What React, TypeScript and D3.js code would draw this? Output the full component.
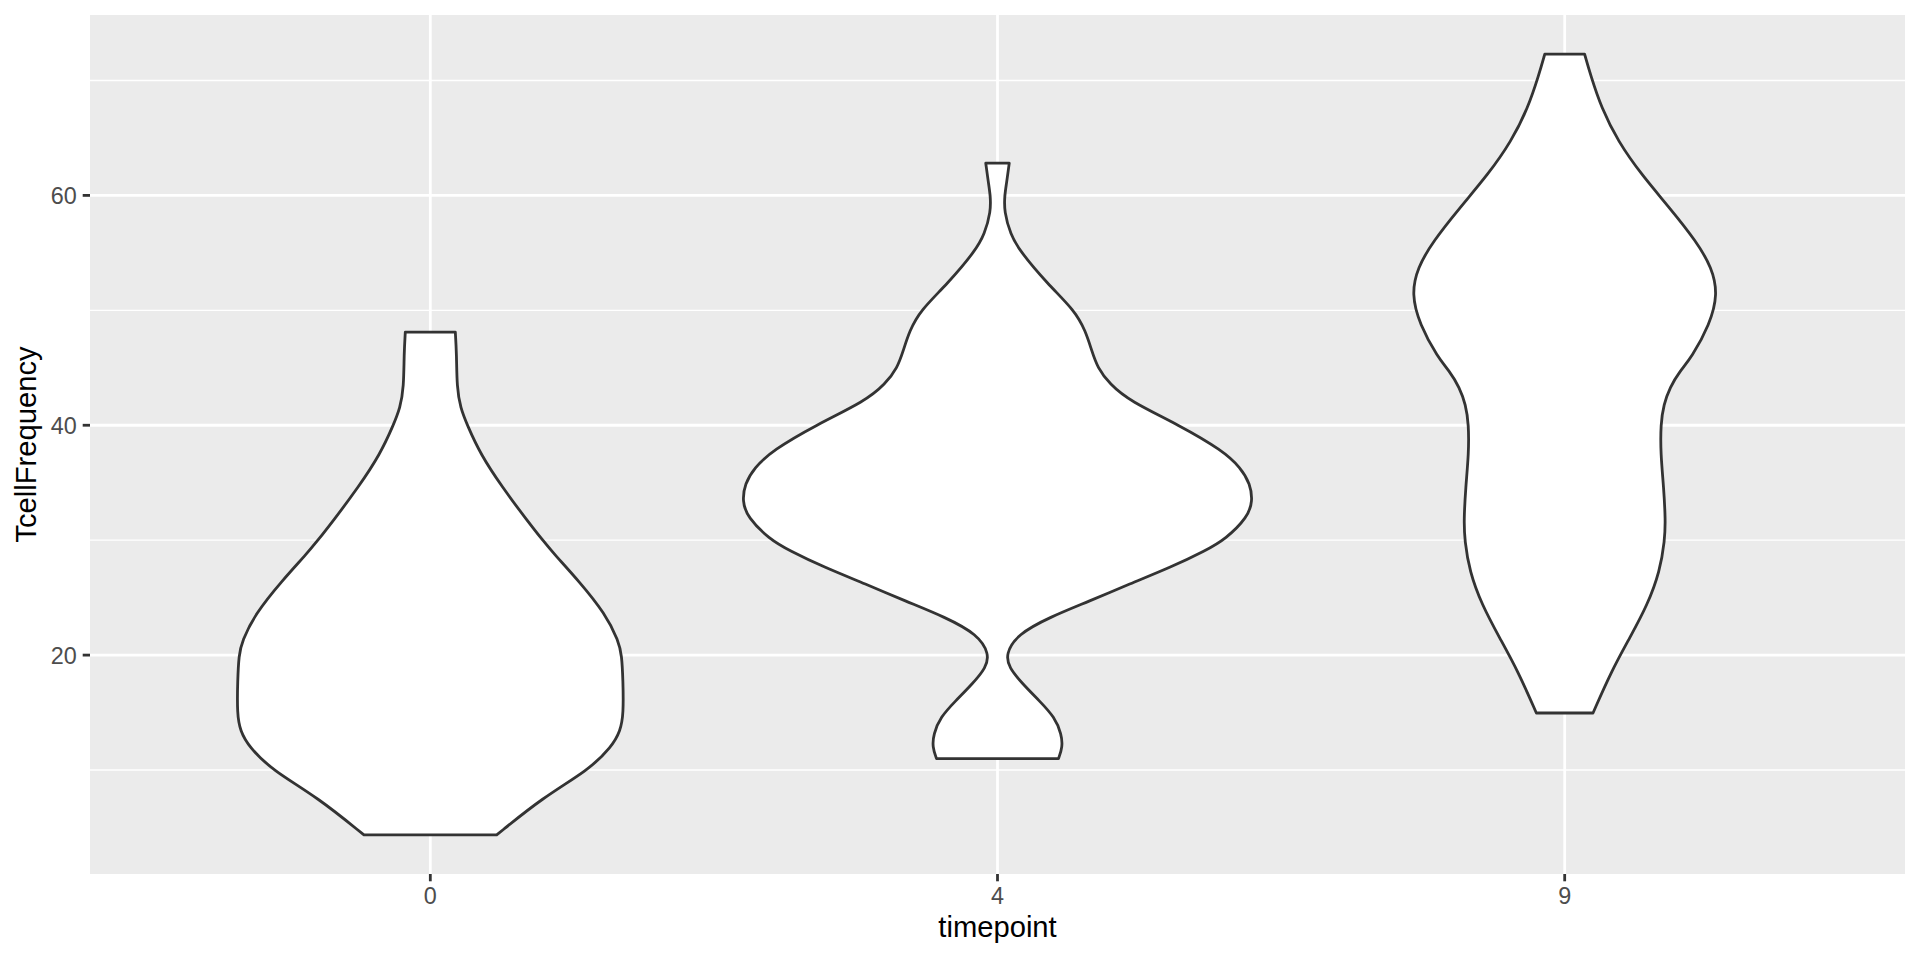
import React from "react";
import * as d3 from "d3";

// timepoint categories
const categories = ["0", "4", "9"];

// Violin profiles: [TcellFrequency, relative half-width (1 = widest violin)]
const violinT0: [number, number][] = [
  [4.35, 0.26], [7.6, 0.44], [10, 0.62], [12, 0.71], [13.4, 0.745], [14.9, 0.757],
  [17.8, 0.755], [20, 0.75], [21.2, 0.738], [23.6, 0.686], [26.5, 0.58], [28.8, 0.485],
  [30, 0.44], [31.7, 0.38], [34.6, 0.282], [37.5, 0.196], [40, 0.145], [41.5, 0.118],
  [43.3, 0.104], [46.2, 0.103], [48.1, 0.098],
];

const violinT4: [number, number][] = [
  [11.0, 0.239], [12.0, 0.255], [13.1, 0.251], [14.6, 0.224], [16.0, 0.165], [17.5, 0.098],
  [18.9, 0.045], [20.1, 0.032], [21.8, 0.078], [23.3, 0.204], [24.7, 0.361], [26.2, 0.518],
  [27.6, 0.675], [29.1, 0.816], [30.1, 0.894], [32.0, 0.98], [33.4, 1.0], [34.9, 0.99],
  [36.3, 0.953], [37.8, 0.882], [40, 0.713], [42.1, 0.518], [43.6, 0.439], [45.0, 0.392],
  [46.5, 0.369], [48.2, 0.345], [50, 0.302], [52.3, 0.196], [55.2, 0.086], [56.6, 0.051],
  [58.6, 0.026], [60, 0.028], [61.0, 0.035], [62.8, 0.046],
];

const violinT9: [number, number][] = [
  [14.96, 0.111], [18.6, 0.183], [21.5, 0.255], [24.4, 0.325], [27.3, 0.373], [30, 0.392],
  [31.7, 0.395], [34.6, 0.388], [37.5, 0.376], [40.1, 0.376], [41.8, 0.388], [43.3, 0.412],
  [44.7, 0.451], [45.9, 0.497], [48.8, 0.569], [51.4, 0.6], [53.7, 0.577], [56.0, 0.516],
  [58.9, 0.412], [61.8, 0.301], [64.7, 0.209], [67.6, 0.144], [70.5, 0.101], [72.3, 0.078],
];

const violins = [violinT0, violinT4, violinT9];

const yMajorTicks = [20, 40, 60];
const yMinorTicks = [10, 30, 50, 70];

const xTitle = "timepoint";
const yTitle = "TcellFrequency";

export default function App() {
  const W = 1920;
  const H = 960;
  const left = 90;
  const right = 1905;
  const top = 15;
  const bottom = 874;

  const allVals = violins.flat().map((d) => d[0]);
  const lo = d3.min(allVals) as number;
  const hi = d3.max(allVals) as number;
  const pad = (hi - lo) * 0.05;

  const x = d3.scalePoint<string>().domain(categories).range([left, right]).padding(0.6);
  const y = d3.scaleLinear().domain([lo - pad, hi + pad]).range([bottom, top]);
  const maxHalf = x.step() * 0.45;

  const font = "'Liberation Sans', Arial, sans-serif";
  const tickLen = 7.3;
  const lw = 2.8;

  return (
    <svg
      width={W}
      height={H}
      style={{ position: "absolute", left: 0, top: 0, display: "block" }}
      fontFamily={font}
    >
      <rect x={0} y={0} width={W} height={H} fill="#ffffff" />
      <rect x={left} y={top} width={right - left} height={bottom - top} fill="#EBEBEB" />
      {yMinorTicks.map((t) => (
        <line key={"mn" + t} x1={left} x2={right} y1={y(t)} y2={y(t)} stroke="#ffffff" strokeWidth={lw / 2} />
      ))}
      {yMajorTicks.map((t) => (
        <line key={"mj" + t} x1={left} x2={right} y1={y(t)} y2={y(t)} stroke="#ffffff" strokeWidth={lw} />
      ))}
      {categories.map((c) => (
        <line key={"vx" + c} x1={x(c)} x2={x(c)} y1={top} y2={bottom} stroke="#ffffff" strokeWidth={lw} />
      ))}
      {violins.map((v, i) => {
        const cx = x(categories[i]) as number;
        const area = d3
          .area<[number, number]>()
          .y((d) => y(d[0]))
          .x0((d) => cx - d[1] * maxHalf)
          .x1((d) => cx + d[1] * maxHalf)
          .curve(d3.curveBasis);
        return (
          <path
            key={"v" + i}
            d={area(v) || ""}
            fill="#ffffff"
            stroke="#333333"
            strokeWidth={lw}
            strokeLinejoin="round"
          />
        );
      })}
      {yMajorTicks.map((t) => (
        <g key={"yt" + t}>
          <line x1={left - tickLen} x2={left} y1={y(t)} y2={y(t)} stroke="#333333" strokeWidth={lw} />
          <text
            x={left - tickLen - 5.8}
            y={y(t)}
            dy="0.36em"
            textAnchor="end"
            fontSize={23.4}
            fill="#4D4D4D"
          >
            {t}
          </text>
        </g>
      ))}
      {categories.map((c) => (
        <g key={"xt" + c}>
          <line x1={x(c)} x2={x(c)} y1={bottom} y2={bottom + tickLen} stroke="#333333" strokeWidth={lw} />
          <text x={x(c)} y={903.5} textAnchor="middle" fontSize={23.4} fill="#4D4D4D">
            {c}
          </text>
        </g>
      ))}
      <text x={(left + right) / 2} y={937} textAnchor="middle" fontSize={29.2} fill="#000000">
        {xTitle}
      </text>
      <text
        transform={`translate(35.5, ${(top + bottom) / 2}) rotate(-90)`}
        textAnchor="middle"
        fontSize={29.2}
        fill="#000000"
      >
        {yTitle}
      </text>
    </svg>
  );
}
